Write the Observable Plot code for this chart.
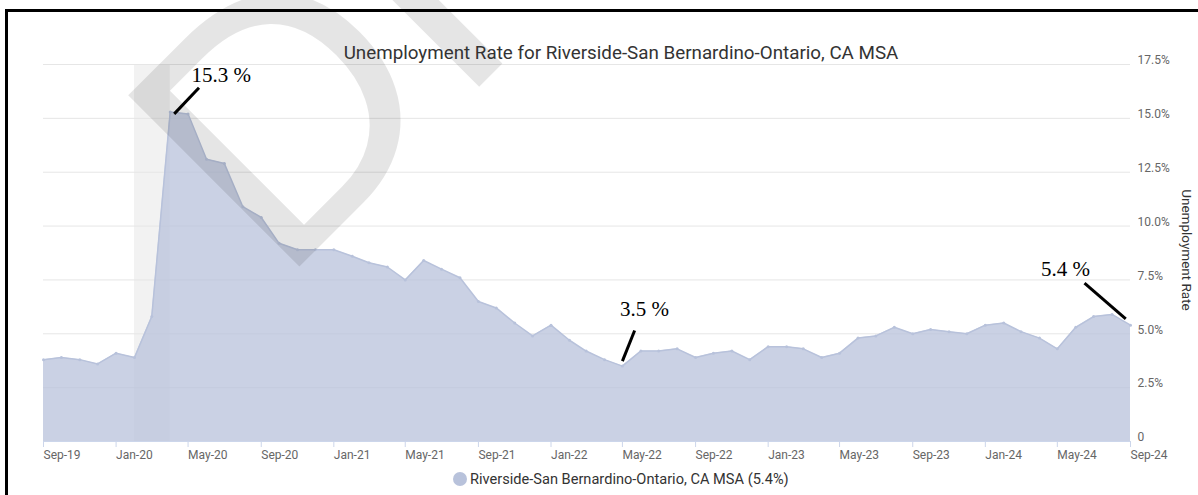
<!DOCTYPE html>
<html><head><meta charset="utf-8">
<script src="https://cdn.jsdelivr.net/npm/d3@7"></script>
<script src="https://cdn.jsdelivr.net/npm/@observablehq/plot@0.6"></script>
<style>
html,body{margin:0;padding:0;background:#fff;}
#wrap{position:relative;width:1198px;height:495px;overflow:hidden;font-family:Roboto,sans-serif;}
#chart{position:absolute;left:0;top:0;}
#wm{position:absolute;left:0;top:0;pointer-events:none;}
#title{position:absolute;left:621px;top:44px;transform:translateX(-50%);white-space:nowrap;font-size:18.8px;line-height:18.8px;color:#333;}
#legend{position:absolute;left:453px;top:470px;height:17px;display:flex;align-items:center;font-size:14.6px;color:#333;white-space:nowrap;}
#legend .sw{width:14px;height:14px;border-radius:50%;margin-right:3px;}
#border{position:absolute;left:5px;top:9px;right:-10px;bottom:-10px;border-top:3px solid #000;border-left:3px solid #000;pointer-events:none;}
</style>
</head><body>
<div id="wrap">
  <div id="chart"></div>
  <svg id="wm" width="1198" height="495"><text id="wmtext" transform="translate(279,287) rotate(-45)" font-family="Liberation Sans" font-size="352" fill="#000" fill-opacity="0.1"></text></svg>
  <div id="title"></div>
  <div id="legend"><span class="sw"></span><span id="legtext"></span></div>
  <div id="border"></div>
</div>
<script>
const chartTitle = "Unemployment Rate for Riverside-San Bernardino-Ontario, CA MSA";
const seriesName = "Riverside-San Bernardino-Ontario, CA MSA";
const yTitle = "Unemployment Rate";
const watermark = "DRAFT";
const seriesColor = "#b8c2db";

const months = ["2019-09","2019-10","2019-11","2019-12",
  "2020-01","2020-02","2020-03","2020-04","2020-05","2020-06","2020-07","2020-08","2020-09","2020-10","2020-11","2020-12",
  "2021-01","2021-02","2021-03","2021-04","2021-05","2021-06","2021-07","2021-08","2021-09","2021-10","2021-11","2021-12",
  "2022-01","2022-02","2022-03","2022-04","2022-05","2022-06","2022-07","2022-08","2022-09","2022-10","2022-11","2022-12",
  "2023-01","2023-02","2023-03","2023-04","2023-05","2023-06","2023-07","2023-08","2023-09","2023-10","2023-11","2023-12",
  "2024-01","2024-02","2024-03","2024-04","2024-05","2024-06","2024-07","2024-08","2024-09"];
const rates = [3.8,3.9,3.8,3.6,
  4.1,3.9,5.8,15.3,15.2,13.1,12.9,10.9,10.4,9.2,8.9,8.9,
  8.9,8.6,8.3,8.1,7.5,8.4,8.0,7.6,6.5,6.2,5.5,4.9,
  5.4,4.7,4.2,3.8,3.5,4.2,4.2,4.3,3.9,4.1,4.2,3.8,
  4.4,4.4,4.3,3.9,4.1,4.8,4.9,5.3,5.0,5.2,5.1,5.0,
  5.4,5.5,5.1,4.8,4.3,5.3,5.8,5.9,5.4];

const xTicks = ["2019-09","2020-01","2020-05","2020-09","2021-01","2021-05","2021-09","2022-01","2022-05","2022-09","2023-01","2023-05","2023-09","2024-01","2024-05","2024-09"];
const xTickLabels = ["Sep-19","Jan-20","May-20","Sep-20","Jan-21","May-21","Sep-21","Jan-22","May-22","Sep-22","Jan-23","May-23","Sep-23","Jan-24","May-24","Sep-24"];
const yTicks = [0,2.5,5,7.5,10,12.5,15,17.5];
const yTickLabels = ["0","2.5%","5.0%","7.5%","10.0%","12.5%","15.0%","17.5%"];

const recessions = [{start:"2020-02", end:"2020-04"}];
const annotationMonths = ["2020-04","2022-05","2024-09"];
const annotationLabels = ["15.3 %","3.5 %","5.4 %"];

const parse = d3.utcParse("%Y-%m");
const data = months.map((m,i)=>({date: parse(m), rate: rates[i]}));
const xLabelMap = new Map(xTicks.map((t,i)=>[+parse(t), xTickLabels[i]]));
const yLabelMap = new Map(yTicks.map((t,i)=>[t, yTickLabels[i]]));
const annotations = annotationMonths.map((m,i)=>({date: parse(m), rate: rates[months.indexOf(m)], label: annotationLabels[i]}));

const lineShape = {draw(context, l){ context.moveTo(0,0); context.lineTo(0,-l); }};
function annotate(a, o){
  return [
    Plot.vector([a], {x:"date", y:"rate", dx:o.ldx, dy:o.ldy, length:o.len, rotate:o.angle, anchor:"start",
      shape: lineShape, stroke:"#000", strokeWidth:3, strokeLinecap:"butt"}),
    Plot.text([a], {x:"date", y:"rate", text:"label", dx:o.tdx, dy:o.tdy, lineAnchor:"bottom", textAnchor:"middle",
      fontFamily:"Liberation Serif", fontSize:21, fill:"#000"})
  ];
}

const chart = Plot.plot({
  width:1198, height:495,
  marginLeft:43, marginRight:68, marginTop:64, marginBottom:54,
  style:{fontFamily:"Roboto, sans-serif", background:"transparent", overflow:"visible"},
  x:{type:"utc", domain:[parse(months[0]), parse(months[months.length-1])]},
  y:{domain:[yTicks[0], yTicks[yTicks.length-1]]},
  marks:[
    Plot.rect(recessions, {x1:d=>parse(d.start), x2:d=>parse(d.end), fill:"#f2f2f2"}),
    Plot.gridY(yTicks, {stroke:"#e6e6e6", strokeOpacity:1}),
    Plot.areaY(data, {x:"date", y:"rate", fill:seriesColor, fillOpacity:0.75}),
    Plot.lineY(data, {x:"date", y:"rate", stroke:seriesColor, strokeWidth:1.5}),
    Plot.dot(data, {x:"date", y:"rate", r:1.5, fill:seriesColor}),
    Plot.ruleY([0], {stroke:"#ccd6eb"}),
    Plot.axisX(xTicks.map(parse), {tickSize:6, tickPadding:3, stroke:"#ccd6eb", fill:"#666", fontSize:12,
      textAnchor:"start", tickFormat:d=>xLabelMap.get(+d), label:null}),
    Plot.axisY(yTicks, {anchor:"right", tickSize:0, tickPadding:7, fill:"#666", fontSize:12, textAnchor:"start",
      dy:-4, tickFormat:d=>yLabelMap.get(d), label:null}),
    Plot.text([yTitle], {frameAnchor:"right", textAnchor:"middle", rotate:90, dx:56, dy:-3, fill:"#333", fontSize:13.5}),
    ...annotate(annotations[0], {ldx:4, ldy:2, len:36, angle:43.5, tdx:51, tdy:-30}),
    ...annotate(annotations[1], {ldx:0, ldy:-5, len:33, angle:21.8, tdx:22, tdy:-50}),
    ...annotate(annotations[2], {ldx:-46, ldy:-42, len:54.5, angle:130.8, tdx:-65, tdy:-49})
  ]
});
document.getElementById("chart").appendChild(chart);
document.getElementById("title").textContent = chartTitle;
document.getElementById("wmtext").textContent = watermark;
document.querySelector("#legend .sw").style.background = seriesColor;
document.getElementById("legtext").textContent = `${seriesName} (${rates[rates.length-1]}%)`;
</script>
</body></html>
